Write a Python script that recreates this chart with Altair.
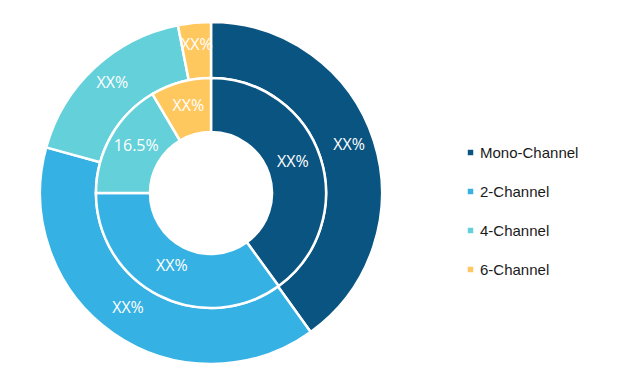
import altair as alt
import pandas as pd

segments = ["Mono-Channel", "2-Channel", "4-Channel", "6-Channel"]
colors = ["#0A5482", "#35B1E3", "#63D0DA", "#FFC85E"]
outer_values = [40.1, 39.2, 17.6, 3.1]
inner_values = [40.0, 35.0, 16.5, 8.5]
outer_labels = ["XX%", "XX%", "XX%", "XX%"]
inner_labels = ["XX%", "XX%", "16.5%", "XX%"]

outer_df = pd.DataFrame({"segment": segments, "value": outer_values,
                         "label": outer_labels, "idx": range(len(segments))})
inner_df = pd.DataFrame({"segment": segments, "value": inner_values,
                         "label": inner_labels, "idx": range(len(segments))})

CX, CY = 203, 185

color = alt.Color(
    "segment:N",
    scale=alt.Scale(domain=segments, range=colors),
    sort=segments,
    legend=alt.Legend(
        title=None, orient="none", legendX=455, legendY=137,
        symbolType="square", symbolSize=30, symbolStrokeWidth=0,
        labelFont="Liberation Sans", labelFontSize=15, labelColor="#1a1a1a",
        labelOffset=2, rowPadding=23,
    ),
)

def ring(df, r_out, r_in, r_lab):
    base = alt.Chart(df).encode(
        theta=alt.Theta("value:Q", stack=True),
        order=alt.Order("idx:Q"),
        x=alt.value(CX), y=alt.value(CY),
    )
    arc = base.mark_arc(radius=r_out, radius2=r_in, stroke="white",
                        strokeWidth=2.5).encode(color=color)
    txt = base.mark_text(radius=r_lab, font="Open Sans", fontSize=16,
                         color="white", dy=-4).encode(text="label:N")
    return arc + txt

chart = alt.layer(
    ring(outer_df, 171, 115, 145),
    ring(inner_df, 115, 61, 86),
).properties(
    width=617, height=364, padding=0,
    autosize=alt.AutoSizeParams(type="none"),
).configure_view(stroke=None)

chart.save("out.html", embed_options={"renderer": "svg", "actions": False})
